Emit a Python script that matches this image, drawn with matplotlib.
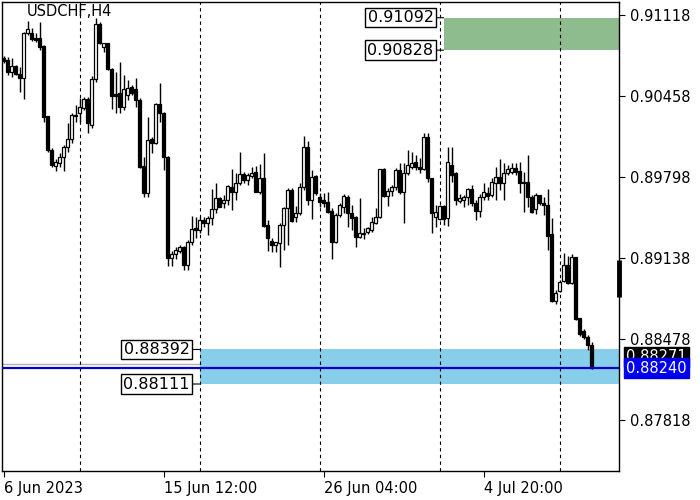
import matplotlib
matplotlib.use("Agg")
import matplotlib.pyplot as plt
import matplotlib.transforms as mtransforms

# USDCHF H4 candles, bar 0 = 6 Jun 2023 20:00
opens = [0.90764, 0.90748, 0.90650, 0.90699, 0.90634, 0.90601, 0.90967, 0.90967, 0.90927, 0.90927,
         0.90862, 0.90292, 0.90015, 0.89885, 0.89909, 0.89958, 0.90040, 0.90105, 0.90292, 0.90316,
         0.90357, 0.90430, 0.90219, 0.90593, 0.91041, 0.90854, 0.90886, 0.90674, 0.90471, 0.90479,
         0.90365, 0.90463, 0.90528, 0.90512, 0.90422, 0.89885, 0.89665, 0.90105, 0.90072, 0.90390,
         0.90316, 0.89958, 0.89136, 0.89169, 0.89193, 0.89226, 0.89079, 0.89267, 0.89380, 0.89364,
         0.89446, 0.89421, 0.89462, 0.89535, 0.89625, 0.89584, 0.89608, 0.89714, 0.89673, 0.89747,
         0.89820, 0.89771, 0.89804, 0.89836, 0.89673, 0.89787, 0.89405, 0.89275, 0.89242, 0.89258,
         0.89405, 0.89543, 0.89690, 0.89470, 0.89503, 0.89714, 0.90040, 0.89608, 0.89804, 0.89633,
         0.89608, 0.89592, 0.89519, 0.89267, 0.89486, 0.89551, 0.89633, 0.89503, 0.89470, 0.89307,
         0.89340, 0.89348, 0.89364, 0.89421, 0.89470, 0.89861, 0.89641, 0.89682, 0.89714, 0.89853,
         0.89673, 0.89828, 0.89877, 0.89918, 0.89877, 0.89861, 0.90121, 0.89787, 0.89470, 0.89454,
         0.89560, 0.89462, 0.89893, 0.89828, 0.89600, 0.89608, 0.89633, 0.89698, 0.89584, 0.89519,
         0.89633, 0.89665, 0.89649, 0.89747, 0.89796, 0.89747, 0.89828, 0.89836, 0.89869, 0.89844,
         0.89755, 0.89755, 0.89633, 0.89535, 0.89649, 0.89584, 0.89568, 0.89332, 0.88786, 0.88868,
         0.88949, 0.89079, 0.88933, 0.89145, 0.88648, 0.88542, 0.88493, 0.88428]
highs = [0.90780, 0.90772, 0.90764, 0.90707, 0.90691, 0.90976, 0.91065, 0.91008, 0.90967, 0.91057,
         0.90870, 0.90292, 0.90032, 0.89942, 0.89991, 0.90056, 0.90235, 0.90316, 0.90381, 0.90438,
         0.90447, 0.90447, 0.90617, 0.91090, 0.91057, 0.90886, 0.90886, 0.90683, 0.90650, 0.90731,
         0.90626, 0.90585, 0.90544, 0.90601, 0.90438, 0.89958, 0.90284, 0.90121, 0.90398, 0.90560,
         0.90324, 0.89966, 0.89193, 0.89226, 0.89242, 0.89234, 0.89283, 0.89478, 0.89470, 0.89470,
         0.89470, 0.89478, 0.89698, 0.89747, 0.89633, 0.89649, 0.89730, 0.89861, 0.89828, 0.89999,
         0.89836, 0.89828, 0.89877, 0.89885, 0.89901, 0.89991, 0.89446, 0.89299, 0.89267, 0.89421,
         0.89551, 0.89706, 0.89706, 0.89560, 0.89747, 0.90129, 0.90088, 0.89853, 0.89812, 0.89665,
         0.89665, 0.89673, 0.89543, 0.89503, 0.89584, 0.89657, 0.89649, 0.89568, 0.89478, 0.89625,
         0.89380, 0.89389, 0.89470, 0.89543, 0.89861, 0.89869, 0.89706, 0.89730, 0.89869, 0.89909,
         0.89909, 0.90015, 0.89999, 0.89975, 0.89950, 0.90154, 0.90154, 0.89787, 0.89568, 0.89568,
         0.89568, 0.90040, 0.90040, 0.89836, 0.89657, 0.89649, 0.89706, 0.89730, 0.89608, 0.89657,
         0.89747, 0.89714, 0.89787, 0.89877, 0.89942, 0.89909, 0.89893, 0.89909, 0.89909, 0.89918,
         0.89836, 0.89975, 0.89649, 0.89665, 0.89649, 0.89633, 0.89698, 0.89462, 0.88876, 0.88957,
         0.89177, 0.89153, 0.89169, 0.89145, 0.88648, 0.88559, 0.88510, 0.88453]
lows = [0.90723, 0.90626, 0.90609, 0.90626, 0.90487, 0.90430, 0.90951, 0.90902, 0.90894, 0.90829,
        0.90243, 0.89999, 0.89877, 0.89844, 0.89877, 0.89844, 0.89999, 0.90072, 0.90243, 0.90243,
        0.90341, 0.90154, 0.90194, 0.90569, 0.90878, 0.90813, 0.90666, 0.90349, 0.90316, 0.90316,
        0.90341, 0.90422, 0.90463, 0.90365, 0.89869, 0.89633, 0.89633, 0.89991, 0.90064, 0.90243,
        0.89853, 0.89071, 0.89071, 0.89128, 0.89177, 0.89039, 0.89039, 0.89242, 0.89299, 0.89340,
        0.89389, 0.89324, 0.89405, 0.89503, 0.89551, 0.89543, 0.89568, 0.89527, 0.89608, 0.89730,
        0.89747, 0.89730, 0.89787, 0.89673, 0.89657, 0.89389, 0.89193, 0.89185, 0.89185, 0.89063,
        0.89202, 0.89242, 0.89429, 0.89429, 0.89486, 0.89690, 0.89568, 0.89454, 0.89649, 0.89551,
        0.89551, 0.89503, 0.89128, 0.89258, 0.89470, 0.89503, 0.89389, 0.89364, 0.89226, 0.89299,
        0.89291, 0.89332, 0.89348, 0.89413, 0.89462, 0.89633, 0.89560, 0.89641, 0.89690, 0.89657,
        0.89421, 0.89812, 0.89861, 0.89853, 0.89828, 0.89853, 0.89755, 0.89340, 0.89389, 0.89446,
        0.89405, 0.89397, 0.89755, 0.89568, 0.89584, 0.89551, 0.89568, 0.89560, 0.89446, 0.89470,
        0.89608, 0.89608, 0.89633, 0.89608, 0.89690, 0.89608, 0.89812, 0.89820, 0.89812, 0.89665,
        0.89511, 0.89551, 0.89503, 0.89494, 0.89568, 0.89486, 0.89202, 0.88778, 0.88762, 0.88860,
        0.88941, 0.88925, 0.88925, 0.88632, 0.88502, 0.88477, 0.88388, 0.88233]
closes = [0.90740, 0.90650, 0.90699, 0.90634, 0.90601, 0.90967, 0.91000, 0.90919, 0.90910, 0.90854,
          0.90284, 0.90015, 0.89893, 0.89918, 0.89958, 0.90040, 0.90105, 0.90300, 0.90300, 0.90365,
          0.90430, 0.90235, 0.90593, 0.91041, 0.90886, 0.90886, 0.90674, 0.90455, 0.90455, 0.90365,
          0.90512, 0.90520, 0.90479, 0.90422, 0.89877, 0.89665, 0.90097, 0.90072, 0.90390, 0.90316,
          0.89958, 0.89136, 0.89169, 0.89202, 0.89226, 0.89079, 0.89267, 0.89372, 0.89364, 0.89446,
          0.89421, 0.89462, 0.89535, 0.89625, 0.89551, 0.89608, 0.89722, 0.89673, 0.89747, 0.89820,
          0.89771, 0.89812, 0.89828, 0.89673, 0.89787, 0.89397, 0.89299, 0.89242, 0.89267, 0.89405,
          0.89543, 0.89690, 0.89437, 0.89503, 0.89714, 0.90040, 0.89608, 0.89796, 0.89665, 0.89592,
          0.89584, 0.89511, 0.89267, 0.89486, 0.89568, 0.89641, 0.89503, 0.89462, 0.89307, 0.89340,
          0.89332, 0.89380, 0.89429, 0.89470, 0.89861, 0.89641, 0.89682, 0.89714, 0.89853, 0.89673,
          0.89828, 0.89893, 0.89909, 0.89877, 0.89861, 0.90121, 0.89787, 0.89503, 0.89511, 0.89560,
          0.89454, 0.89918, 0.89812, 0.89608, 0.89625, 0.89633, 0.89698, 0.89584, 0.89519, 0.89633,
          0.89673, 0.89641, 0.89755, 0.89796, 0.89747, 0.89828, 0.89861, 0.89869, 0.89836, 0.89747,
          0.89747, 0.89633, 0.89511, 0.89649, 0.89584, 0.89568, 0.89315, 0.88786, 0.88852, 0.88941,
          0.89079, 0.88933, 0.89145, 0.88640, 0.88518, 0.88493, 0.88428, 0.88240]

# partial bar sitting on the right border
edge_bar = (0.88819, 0.89120)

price_ticks = [0.91118, 0.90458, 0.89798, 0.89138, 0.88478, 0.87818]
time_ticks = [0, 40, 80, 120]
time_labels = ["6 Jun 2023", "15 Jun 12:00", "26 Jun 04:00", "4 Jul 20:00"]
week_lines = [19, 49, 79, 109, 139]

green_zone = (0.90828, 0.91092)
blue_zone = (0.88111, 0.88392)
green_start = 110
blue_start = 49
bid = closes[-1]
ask_line = 0.88271

plt.rcParams['font.family'] = ['DejaVu Sans']
fig = plt.figure(figsize=(7, 5), dpi=100)
ax = fig.add_axes([2 / 700, 29 / 500, 617 / 700, 469 / 500])

ymin, ymax = 0.87403, 0.91220
xmin, xmax = -0.4, 153.85
ax.set_xlim(xmin, xmax)
ax.set_ylim(ymin, ymax)

# zones
ax.fill_between([blue_start, xmax], blue_zone[0], blue_zone[1], color='#87CEEB', lw=0, zorder=2)
ax.fill_between([green_start, xmax], green_zone[0], green_zone[1], color='#8FBC8F', lw=0, zorder=2)
ax.axhline(ask_line, color='#b0b0b0', lw=1, zorder=1)

for w in week_lines:
    ax.axvline(w, color='black', lw=0.8, linestyle=(0, (3, 3)), zorder=3)

# candles
idx = list(range(len(opens)))
ax.vlines(idx, lows, highs, color='black', lw=1, zorder=4)
bottoms = [min(o, c) for o, c in zip(opens, closes)]
heights = [abs(c - o) for o, c in zip(opens, closes)]
colors = ['white' if c >= o else 'black' for o, c in zip(opens, closes)]
ax.bar(idx, heights, bottom=bottoms, width=0.6, color=colors, edgecolor='black',
       linewidth=0.9, zorder=5)
ax.vlines(xmax, edge_bar[0], edge_bar[1], color='black', lw=3.5, zorder=6, clip_on=False)

ax.axhline(bid, color='#0000CD', lw=1.6, zorder=6)

# level labels
for start, lvl in [(blue_start, blue_zone[1]), (blue_start, blue_zone[0]),
                   (green_start, green_zone[1]), (green_start, green_zone[0])]:
    ax.annotate(f"{lvl:.5f}", xy=(start, lvl), xytext=(-10, 0), textcoords='offset pixels',
                ha='right', va='center', fontsize=11.5, zorder=7,
                bbox=dict(boxstyle='square,pad=0.14', fc='white', ec='black', lw=1),
                arrowprops=dict(arrowstyle='-', lw=0.8, color='black', shrinkA=0, shrinkB=0))

# axes
ax.yaxis.tick_right()
ax.set_yticks(price_ticks)
ax.set_yticklabels([f"{p:.5f}" for p in price_ticks])
ax.set_xticks(time_ticks)
ax.set_xticklabels(time_labels, ha='left')
ax.tick_params(axis='both', labelsize=10.5, length=4, width=0.8, color='black')
ax.tick_params(axis='y', pad=4)
ax.tick_params(axis='x', pad=3)
for s in ax.spines.values():
    s.set_linewidth(1)

trans = mtransforms.blended_transform_factory(ax.transAxes, ax.transData)
ax.text(1.012, ask_line + 0.0006, f"{ask_line:.5f}", transform=trans, color='white',
        fontsize=10.5, va='center', ha='left', zorder=8, clip_on=False,
        bbox=dict(boxstyle='square,pad=0.15', fc='black', ec='black'))
ax.text(1.012, bid, f"{bid:.5f}", transform=trans, color='white', fontsize=10.5,
        va='center', ha='left', zorder=9, clip_on=False,
        bbox=dict(boxstyle='square,pad=0.15', fc='#0000EE', ec='#0000EE'))

ax.text(0.04, 0.995, "USDCHF,H4", transform=ax.transAxes, fontsize=10.5, va='top', ha='left',
        zorder=8)

fig.savefig('out.png')
